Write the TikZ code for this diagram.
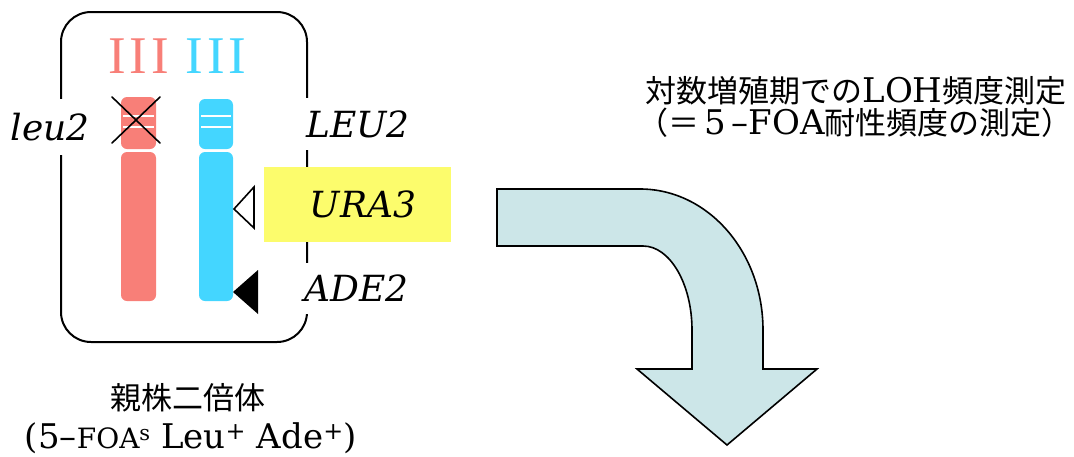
\documentclass[tikz,border=0pt]{standalone}
\usepackage{fontspec}
\setmainfont{DejaVu Serif}
\newfontfamily\numfont{Liberation Serif}
\newfontfamily\cjk{Noto Sans CJK JP}
\definecolor{chromred}{RGB}{248,127,120}
\definecolor{chromblue}{RGB}{68,214,255}
\definecolor{markyellow}{RGB}{252,252,108}
\definecolor{arrowfill}{RGB}{204,230,232}
\newcommand{\chromnum}{I\kern4pt I\kern4pt I}
\begin{document}
\begin{tikzpicture}[x=1pt,y=-1pt,
  gene/.style={font=\fontsize{36}{38}\selectfont\itshape, inner sep=0pt, fill=white},
  roman/.style={font=\numfont\fontsize{53}{53}\selectfont, inner sep=0pt},
  chrom/.style={rounded corners=6pt},
  band/.style={white, line width=1.6pt},
  jptext/.style={font=\fontsize{31}{33}\selectfont, inner sep=0pt},
  edge/.style={line width=1.6pt}]
\useasboundingbox (0,0) rectangle (1074,456);

% cell outline
\draw[line width=2pt, rounded corners=30pt] (61,12) rectangle (307,342);

% chromosome numbers
\node[roman, text=chromred]  (numR) at (138.5,56) {\chromnum};
\node[roman, text=chromblue] (numB) at (216,56) {\chromnum};

% red chromosome (leu2 copy)
\fill[chromred, chrom] (121,97) rectangle (156,149);
\fill[chromred, chrom] (121,152) rectangle (156,301);
\draw[band] (123,116) -- (154,116);
\draw[band] (123,127) -- (154,127);
\draw[edge, line cap=round] (112,97) -- (160,143);
\draw[edge, line cap=round] (112,143) -- (160,97);

% blue chromosome (LEU2 URA3 ADE2 copy)
\fill[chromblue, chrom] (199,99) rectangle (233,149);
\fill[chromblue, chrom] (199,152) rectangle (233,301);
\draw[band] (201,116) -- (231,116);
\draw[band] (201,127) -- (231,127);

% marker insertions
\draw[edge, line join=miter] (234,209) -- (254,187) -- (254,228) -- cycle;
\fill (233,292) -- (258,270) -- (258,314) -- cycle;

% gene labels
\node[gene, minimum height=56pt, minimum width=82pt] (leu) at (50,127) {leu2};
\node[gene, minimum height=52pt, anchor=west] (LEU) at (306,124) {LEU2};
\node[gene, minimum height=51pt, anchor=west] (ADE) at (304,288) {ADE2};
\node[fill=markyellow, minimum width=187pt, minimum height=75pt, inner sep=0pt] (ura) at (357.5,204.5) {};
\node[font=\fontsize{36}{38}\selectfont\itshape, inner sep=0pt] (uralabel) at (363,204) {URA3};

% parent diploid caption
\node[jptext] (parent) at (188,398) {\cjk 親株二倍体};
\node[font=\fontsize{34}{36}\selectfont, inner sep=0pt] (pheno) at (191,438)
  {(5--{\fontsize{28}{29}\selectfont FOA}\raisebox{0.45ex}{\fontsize{21}{21}\selectfont s} Leu\textsuperscript{+} Ade\textsuperscript{+})};

% measurement caption
\node[jptext] (measure1) at (856,91) {{\cjk 対数増殖期での}{\fontsize{34}{36}\selectfont LOH}{\cjk 頻度測定}};
\node[jptext] (measure2) at (855,123) {{\cjk （＝}{\fontsize{34}{36}\selectfont\,5\,--FOA}{\cjk 耐性頻度の測定）}};

% bent arrow
\draw[line width=1.6pt, fill=arrowfill, line join=miter]
  (497,189) -- (640,189)
  .. controls (708,189) and (763,252) .. (763,330)
  -- (763,369) -- (817,369) -- (727,445) -- (637,369) -- (692,369) -- (692,330)
  .. controls (692,284) and (670,246) .. (643,246)
  -- (497,246) -- cycle;
\end{tikzpicture}
\end{document}
